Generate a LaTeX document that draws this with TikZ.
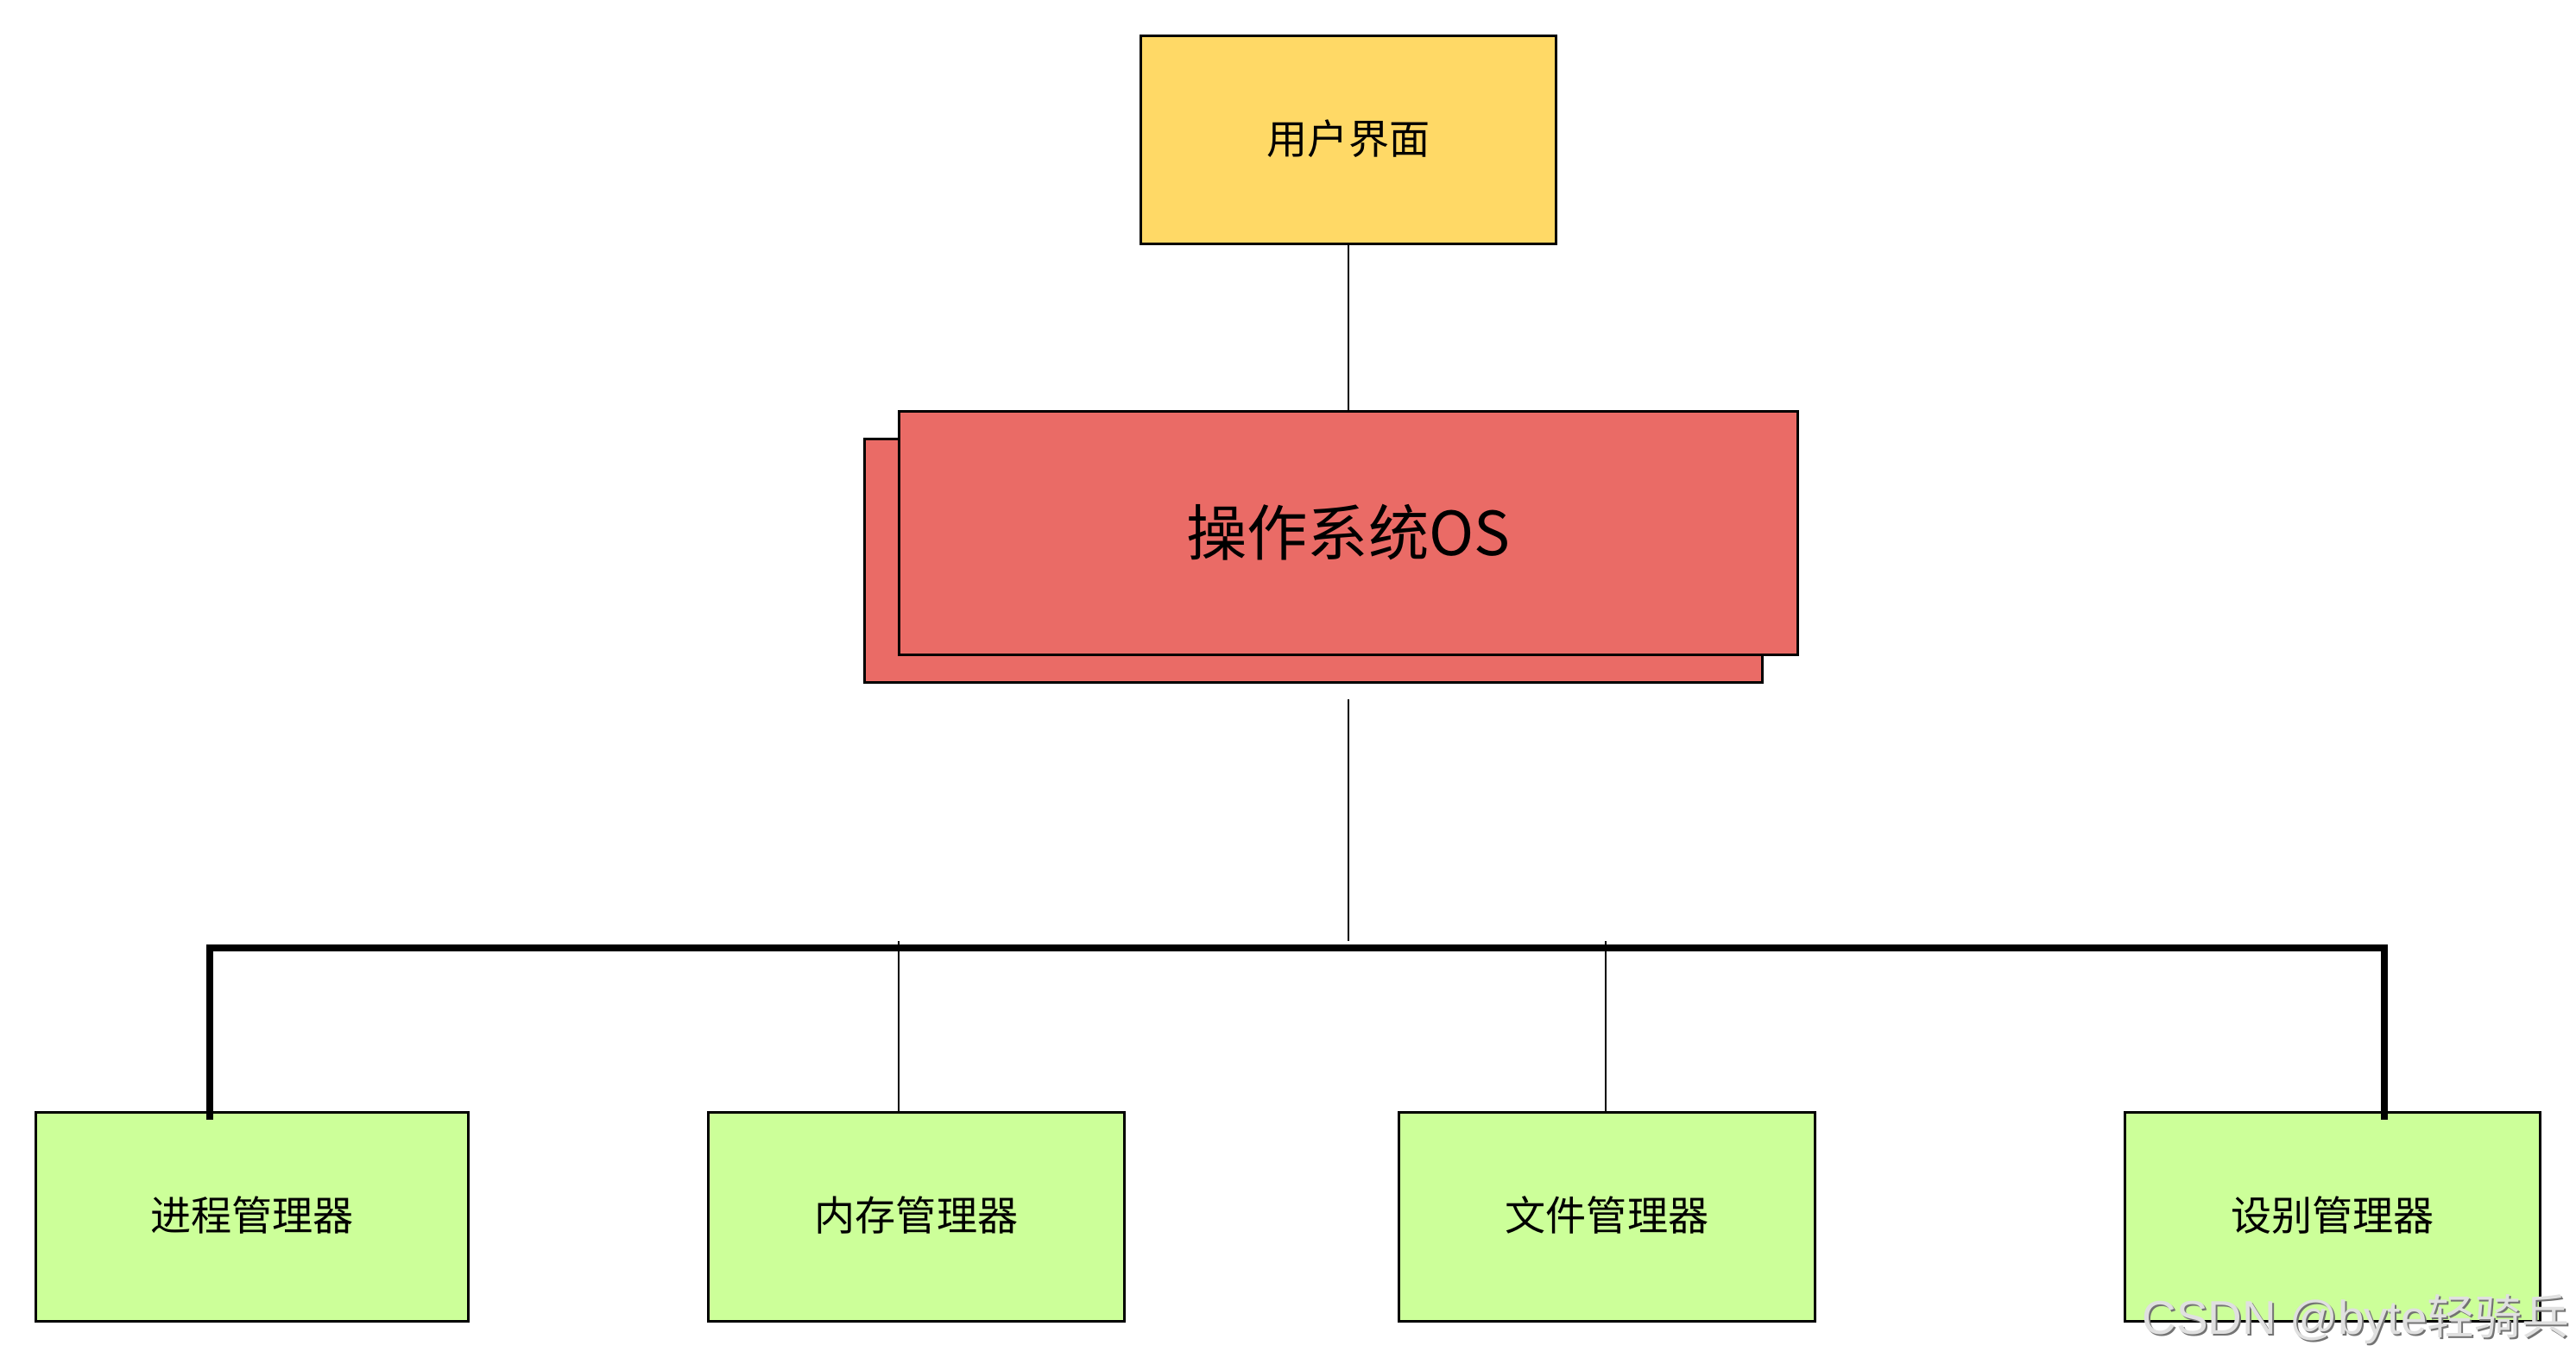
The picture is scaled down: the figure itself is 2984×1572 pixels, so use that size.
\documentclass[tikz,border=0pt]{standalone}
\usepackage{fontspec}
\setmainfont{Noto Sans CJK SC}
\newfontfamily\wmlatin{Liberation Sans}
\newfontfamily\wmcjk{Noto Sans CJK SC}
\definecolor{uiyellow}{HTML}{FFD966}
\definecolor{osred}{HTML}{EA6B66}
\definecolor{mgrgreen}{HTML}{CCFF99}
\begin{document}
\begin{tikzpicture}[x=0.01cm,y=-0.01cm,
  box/.style={draw=black, line width=0.85pt, inner sep=0pt, align=center},
  uibox/.style={box, fill=uiyellow, minimum width=4.8cm, minimum height=2.4cm, font=\fontsize{13.4}{16}\selectfont},
  osbox/.style={box, fill=osred, minimum width=10.4cm, minimum height=2.81cm, font=\fontsize{20}{24}\selectfont},
  mgrbox/.style={box, fill=mgrgreen, minimum width=4.81cm, minimum height=2.41cm, font=\fontsize{13.4}{16}\selectfont},
  thinline/.style={draw=black, line width=0.7pt},
  busline/.style={draw=black, line width=2.3pt, line join=miter},
  wm/.style={anchor=base west, inner sep=0pt, font=\wmlatin\fontsize{15.6}{18}\selectfont}]
\useasboundingbox (0,0) rectangle (2984,1572);
% top
\node[uibox] (ui) at (1562,162) {\raisebox{2pt}{用户界面}};
% OS stacked boxes
\node[osbox] (osback) at (1521.5,649.5) {};
\node[osbox] (os) at (1562,617.5) {\raisebox{2pt}{操作系统OS}};
% managers
\node[mgrbox, minimum width=5.0cm] (proc) at (292,1409.5) {\raisebox{2pt}{进程管理器}};
\node[mgrbox] (mem) at (1061.5,1409.5) {\raisebox{2pt}{内存管理器}};
\node[mgrbox] (file) at (1861.5,1409.5) {\raisebox{2pt}{文件管理器}};
\node[mgrbox] (dev) at (2702,1409.5) {\raisebox{2pt}{设别管理器}};
% coordinates
\coordinate (osout) at (1562,810);
\coordinate (busmid) at (1562,1090);
\coordinate (bl) at (243,1098);
\coordinate (br) at (2762,1098);
\coordinate (b1) at (243,1297);
\coordinate (b4) at (2762,1297);
\coordinate (t2) at (1041,1090);
\coordinate (t3) at (1860,1090);
% connectors
\draw[thinline] (ui.south) -- (os.north);
\draw[thinline] (osout) -- (busmid);
\draw[busline] (b1) -- (bl) -- (br) -- (b4);
\draw[thinline] (t2) -- (t2 |- mem.north);
\draw[thinline] (t3) -- (t3 |- file.north);
% watermark
\node[wm, text=black!55] (wmshadow) at (2483,1547) {CSDN @byte{\wmcjk 轻骑兵}};
\node[wm, text=black!12] (wmtext) at (2481,1545) {CSDN @byte{\wmcjk 轻骑兵}};
\end{tikzpicture}
\end{document}
